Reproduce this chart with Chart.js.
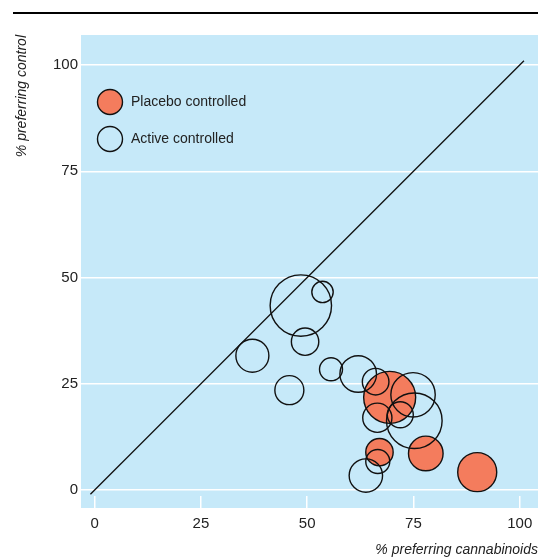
<!DOCTYPE html>
<html>
<head>
<meta charset="utf-8">
<script src="https://cdn.jsdelivr.net/npm/chart.js@4.4.0/dist/chart.umd.min.js"></script>
<style>
  body { margin: 0; background: #fff; }
  #wrap { width: 540px; height: 558px; position: relative; }
</style>
</head>
<body>
<div id="wrap"><canvas id="myChart"></canvas></div>
<script>
// trials comparing patient preference, bubble radius ~ trial size
const placeboX = [69.4, 77.9, 90.0, 67.0];
const placeboY = [21.8, 8.6, 4.2, 8.9];
const placeboR = [26, 17.3, 19.5, 13.7];

const activeX = [48.5, 53.6, 49.5, 37.1, 45.8, 55.6, 62.0, 66.1, 74.9, 66.5, 71.9, 75.2, 66.6, 63.8];
const activeY = [43.4, 46.6, 34.9, 31.6, 23.5, 28.4, 27.3, 25.5, 22.4, 17.0, 17.7, 16.3, 6.7, 3.4];
const activeR = [30.7, 10.7, 13.7, 16.5, 14.5, 11.5, 18.3, 13.3, 22.2, 14.6, 13, 27.8, 12, 16.7];

const tickValues = [0, 25, 50, 75, 100];
const equalityLine = [-1, 101];
const legendLabels = ['Placebo controlled', 'Active controlled'];

const FONT = "'Liberation Sans', Arial, sans-serif";
const BLUE = '#c6e9f9';
const ORANGE = '#f47c5d';

const toPoints = (xs, ys, rs) => xs.map((x, i) => ({ x: x, y: ys[i], r: rs[i] }));

const panelPlugin = {
  id: 'panel',
  beforeDraw(chart) {
    const { ctx, chartArea } = chart;
    ctx.save();
    ctx.fillStyle = BLUE;
    ctx.fillRect(chartArea.left, chartArea.top, chartArea.right - chartArea.left, chartArea.bottom - chartArea.top + 12);
    ctx.strokeStyle = '#000';
    ctx.lineWidth = 2;
    ctx.beginPath();
    ctx.moveTo(13, 13);
    ctx.lineTo(538, 13);
    ctx.stroke();
    ctx.restore();
  },
  afterDraw(chart) {
    const ctx = chart.ctx;
    ctx.save();
    ctx.font = '14px ' + FONT;
    ctx.textBaseline = 'middle';
    legendLabels.forEach((label, i) => {
      const cy = 102 + i * 37;
      ctx.beginPath();
      ctx.arc(110, cy, 12.5, 0, Math.PI * 2);
      ctx.fillStyle = i === 0 ? ORANGE : 'rgba(0,0,0,0)';
      ctx.fill();
      ctx.lineWidth = 1.4;
      ctx.strokeStyle = '#111';
      ctx.stroke();
      ctx.fillStyle = '#222';
      ctx.fillText(label, 131, cy);
    });
    ctx.restore();
  }
};

const myChart = new Chart(document.getElementById('myChart').getContext('2d'), {
  type: 'bubble',
  data: {
    datasets: [
      {
        type: 'line',
        data: equalityLine.map(v => ({ x: v, y: v })),
        borderColor: '#111',
        borderWidth: 1.3,
        pointRadius: 0,
        fill: false,
        order: 3
      },
      {
        label: legendLabels[0],
        data: toPoints(placeboX, placeboY, placeboR),
        backgroundColor: ORANGE,
        borderColor: '#111',
        borderWidth: 1.4,
        order: 2
      },
      {
        label: legendLabels[1],
        data: toPoints(activeX, activeY, activeR),
        backgroundColor: 'rgba(0,0,0,0)',
        borderColor: '#111',
        borderWidth: 1.4,
        order: 1
      }
    ]
  },
  options: {
    responsive: true,
    maintainAspectRatio: false,
    animation: false,
    layout: { autoPadding: false, padding: { top: 35, right: 2, left: 0, bottom: 0 } },
    plugins: { legend: { display: false }, tooltip: { enabled: false } },
    scales: {
      x: {
        type: 'linear',
        min: -3.22,
        max: 104.3,
        afterBuildTicks: s => { s.ticks = tickValues.map(v => ({ value: v })); },
        afterFit: s => { s.height = 62; s.paddingLeft = 0; s.paddingRight = 0; },
        grid: { drawOnChartArea: false, drawTicks: true, tickLength: 12, color: '#fff', lineWidth: 1.5 },
        border: { display: false },
        ticks: { padding: 7, color: '#222', font: { family: FONT, size: 15 }, maxRotation: 0 },
        title: {
          display: true,
          text: '% preferring cannabinoids',
          align: 'end',
          color: '#222',
          padding: { top: 0, bottom: -1 },
          font: { family: FONT, size: 14, style: 'italic' }
        }
      },
      y: {
        type: 'linear',
        min: -1.41,
        max: 107.06,
        afterBuildTicks: s => { s.ticks = tickValues.map(v => ({ value: v })); },
        afterFit: s => { s.width = 81; s.paddingTop = 0; s.paddingBottom = 0; },
        grid: { drawTicks: false, color: '#fff', lineWidth: 1.5 },
        border: { display: false },
        ticks: { padding: 3, color: '#222', font: { family: FONT, size: 15 } },
        title: {
          display: true,
          text: '% preferring control',
          align: 'end',
          color: '#222',
          padding: { top: 14, bottom: 0 },
          font: { family: FONT, size: 14, style: 'italic' }
        }
      }
    }
  },
  plugins: [panelPlugin]
});
</script>
</body>
</html>
